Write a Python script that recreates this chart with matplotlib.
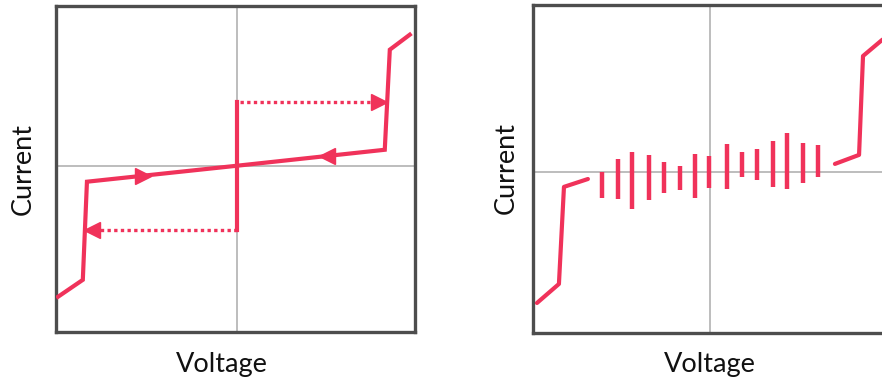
import numpy as np
import matplotlib
matplotlib.use("Agg")
import matplotlib.pyplot as plt

RED = "#f0325a"

# left panel: hysteresis sweep (arbitrary units, origin at centre)
left_v = [-99.4, -85.6, -83.3, 0.0, 82.2, 85.0, 96.1]
left_i = [-80.4, -70.0, -9.8, 0.0, 9.8, 71.2, 80.4]
jump_i = [39.3, -39.3]           # vertical jump at V=0
up_arrow_v = [1.7, 82.2]         # dotted arrow to the upper branch
down_arrow_v = [0.0, -83.3]      # dotted arrow to the lower branch
dir_v = [-52.0, 50.0]            # direction markers on the line

# right panel: switching with noisy middle part
right_lo_v = [-96.1, -83.9, -81.1, -67.8]
right_lo_i = [-79.9, -68.3, -9.1, -4.3]
right_hi_v = [69.4, 82.8, 85.0, 95.6, 101.1]
right_hi_i = [4.9, 10.4, 70.7, 80.5, 84.0]
bar_v = [-59.8, -51.3, -43.2, -33.7, -25.6, -16.7, -8.2, -0.6,
         9.3, 17.6, 26.3, 34.8, 42.6, 51.8, 60.0]
bar_top = [0.2, 7.7, 12.4, 10.5, 5.9, 3.5, 10.8, 9.8,
           16.9, 12.4, 14.2, 19.1, 24.0, 17.5, 16.6]
bar_bot = [-15.7, -16.6, -22.7, -17.1, -13.0, -11.0, -16.0, -9.9,
           -10.4, -2.9, -4.9, -9.3, -10.4, -6.5, -3.2]

W, H = 882, 381


def set_ax(ax, xlim, ylim):
    ax.set_xlim(*xlim)
    ax.set_ylim(*ylim)
    ax.set_xticks([])
    ax.set_yticks([])
    ax.axvline(0, color="#b8b8b8", lw=1.3, zorder=1)
    ax.axhline(0, color="#b8b8b8", lw=1.3, zorder=1)
    for s in ax.spines.values():
        s.set_color("#4d4d4d")
        s.set_linewidth(2.4)


fig = plt.figure(figsize=(W / 100, H / 100), dpi=100)
ax1 = fig.add_axes([56 / W, 49 / H, 359 / W, 326 / H])
ax2 = fig.add_axes([533 / W, 48 / H, 359 / W, 328 / H])

set_ax(ax1, (-100.5, 99.0), (-102.0, 98.0))
ax1.plot(left_v, left_i, color=RED, lw=3.0, solid_joinstyle="miter", zorder=3)
ax1.plot([0, 0], jump_i, color=RED, lw=3.0, zorder=3)
ax1.plot(up_arrow_v, [jump_i[0]] * 2, color=RED, lw=2.4, ls=(0, (1, 1)), zorder=3)
ax1.plot(down_arrow_v, [jump_i[1]] * 2, color=RED, lw=2.4, ls=(0, (1, 1)), zorder=3)
ax1.plot(up_arrow_v[1] - 3, jump_i[0], marker=">", ms=11, color=RED, zorder=4)
ax1.plot(down_arrow_v[1] + 3, jump_i[1], marker="<", ms=11, color=RED, zorder=4)
# direction markers sit on the linear branch through the origin
slope = 9.8 / 82.2
ax1.plot(dir_v[0], dir_v[0] * slope, marker=">", ms=11, color=RED, zorder=4)
ax1.plot(dir_v[1], dir_v[1] * slope, marker="<", ms=11, color=RED, zorder=4)

set_ax(ax2, (-98.3, 101.1), (-98.2, 101.8))
ax2.plot(right_lo_v, right_lo_i, color=RED, lw=3.0, solid_capstyle="round", zorder=3)
ax2.plot(right_hi_v, right_hi_i, color=RED, lw=3.0, solid_capstyle="round", zorder=3)
ax2.vlines(bar_v, bar_bot, bar_top, color=RED, lw=3.2, zorder=3)

# axis labels placed where they sit in the original figure
lab = dict(fontsize=19.5, family="Lato", color="#111111")
fig.text(222 / W, (H - 372) / H, "Voltage", ha="center", va="baseline", **lab)
fig.text(710 / W, (H - 372) / H, "Voltage", ha="center", va="baseline", **lab)
fig.text(23.5 / W, (H - 169) / H, "Current", ha="center", va="center", rotation=90, **lab)
fig.text(506.5 / W, (H - 168) / H, "Current", ha="center", va="center", rotation=90, **lab)

fig.savefig("out.png", dpi=100)
